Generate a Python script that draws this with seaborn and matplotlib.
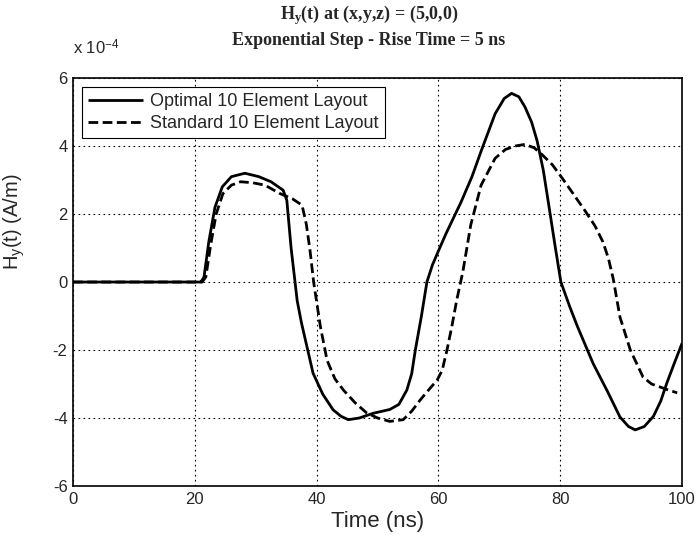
import numpy as np
import pandas as pd
import matplotlib
matplotlib.use("Agg")
import matplotlib.pyplot as plt
import seaborn as sns

# values in units of 1e-4 A/m
t_opt = [0, 10, 21.0, 21.5, 22.3, 23.3, 24.5, 26.0, 28.2, 30.5, 32.5, 34.5, 35.1, 35.8, 36.8, 37.5,
         39.4, 41.0, 42.7, 44.0, 45.2, 47.0, 49.3, 52.0, 53.5, 54.8, 55.6, 56.2, 57.2, 58.1, 59.0,
         60.2, 61.2, 63.7, 65.5, 67.0, 69.3, 70.8, 72.0, 73.2, 74.2, 75.3, 76.2, 77.2, 78.2, 79.2,
         80.1, 81.5, 82.8, 85.4, 87.7, 89.8, 91.2, 92.3, 93.8, 95.3, 96.5, 97.5, 98.7, 100.0]
h_opt = [0, 0, 0, 0.15, 1.2, 2.2, 2.8, 3.1, 3.2, 3.1, 2.95, 2.7, 2.4, 1.0, -0.55, -1.2,
         -2.68, -3.3, -3.76, -3.95, -4.05, -4.0, -3.86, -3.75, -3.6, -3.18, -2.7, -2.0, -1.0, 0.0, 0.5,
         1.0, 1.41, 2.35, 3.1, 3.85, 4.95, 5.4, 5.55, 5.45, 5.15, 4.7, 4.15, 3.3, 2.16, 1.0,
         0.0, -0.7, -1.3, -2.4, -3.2, -3.97, -4.25, -4.35, -4.25, -3.95, -3.5, -2.97, -2.4, -1.8]

t_std = [0, 10, 21.2, 21.8, 22.6, 23.5, 24.6, 26.0, 27.5, 29.5, 31.5, 34.0, 36.0, 37.6, 38.3, 38.9,
         39.5, 40.6, 41.7, 43.0, 44.4, 46.3, 48.2, 50.0, 52.0, 54.2, 55.6, 57.0, 58.5, 59.8, 60.6,
         61.4, 62.2, 63.0, 64.0, 65.3, 67.0, 69.3, 71.0, 72.6, 74.2, 75.7, 77.0, 78.7, 80.3, 82.3,
         84.2, 85.7, 87.0, 87.9, 88.7, 89.8, 91.5, 93.6, 95.0, 96.4, 97.8, 99.2]
h_std = [0, 0, 0, 0.15, 1.1, 2.0, 2.6, 2.85, 2.95, 2.92, 2.85, 2.6, 2.45, 2.26, 1.7, 0.94,
         0.0, -1.3, -2.3, -2.85, -3.18, -3.55, -3.85, -4.0, -4.1, -4.05, -3.8, -3.47, -3.15, -2.88, -2.6,
         -2.0, -1.3, -0.53, 0.3, 1.68, 2.85, 3.64, 3.9, 4.0, 4.05, 3.95, 3.75, 3.45, 3.06, 2.55,
         2.06, 1.65, 1.18, 0.7, 0.09, -1.03, -2.0, -2.8, -3.0, -3.09, -3.18, -3.26]

labels = ["Optimal 10 Element Layout", "Standard 10 Element Layout"]
x_ticks = [0, 20, 40, 60, 80, 100]
y_ticks = [-6, -4, -2, 0, 2, 4, 6]

sns.set_theme(style="white")
plt.rcParams["font.family"] = ["Liberation Sans", "DejaVu Sans"]
plt.rcParams["mathtext.fontset"] = "custom"
plt.rcParams["mathtext.rm"] = "Liberation Serif:bold"
plt.rcParams["mathtext.bf"] = "Liberation Serif:bold"
plt.rcParams["mathtext.it"] = "Liberation Serif:bold"
plt.rcParams["mathtext.sf"] = "Liberation Sans"

df = pd.concat([
    pd.DataFrame({"t": t_opt, "h": h_opt, "layout": labels[0]}),
    pd.DataFrame({"t": t_std, "h": h_std, "layout": labels[1]}),
])

fig = plt.figure(figsize=(6.96, 5.41), dpi=100)
ax = fig.add_axes([0.105, 0.1017, 0.875, 0.754])
sns.lineplot(data=df, x="t", y="h", hue="layout", style="layout",
             palette=["black", "black"], dashes=[(1, 0), (3.5, 1.6)],
             sort=False, estimator=None, ax=ax, linewidth=2.0)

ax.set_xlim(0, 100)
ax.set_ylim(-6, 6)
ax.set_xticks(x_ticks)
ax.set_yticks(y_ticks)
ax.set_xticklabels([str(v) for v in x_ticks], fontsize=12)
ax.set_yticklabels([str(v) for v in y_ticks], fontsize=12)
ax.tick_params(direction="in", length=4, color="black", pad=4)
ax.grid(True, color="black", linestyle=(0, (1.5, 3)), linewidth=0.8)
for s in ax.spines.values():
    s.set_color("black")
    s.set_linewidth(1.2)

ax.set_xlabel("Time (ns)", fontsize=16, labelpad=3)
ax.set_ylabel(r"H$_\mathsf{y}$(t) (A/m)", fontsize=14.5)
ax.yaxis.set_label_coords(-0.076, 0.647)

ax.text(0.0, 1.075, r"x 10$^{\mathsf{-4}}$", transform=ax.transAxes, fontsize=12,
        ha="left", va="center")

fig.text(0.53, 0.972, r"H$_y$(t) at (x,y,z) = (5,0,0)", ha="center", va="center",
         fontsize=13, fontweight="bold", family="Liberation Serif")
fig.text(0.53, 0.925, "Exponential Step - Rise Time = 5 ns", ha="center", va="center",
         fontsize=13, fontweight="bold", family="Liberation Serif")

leg = ax.legend(loc="upper left", fontsize=13, frameon=True, fancybox=False,
                edgecolor="black", framealpha=1, borderaxespad=0.5, handlelength=3.0,
                labelspacing=0.25, borderpad=0.35, handletextpad=0.4)
leg.get_frame().set_linewidth(0.8)
leg.set_title(None)

fig.savefig("out.png", dpi=100)
